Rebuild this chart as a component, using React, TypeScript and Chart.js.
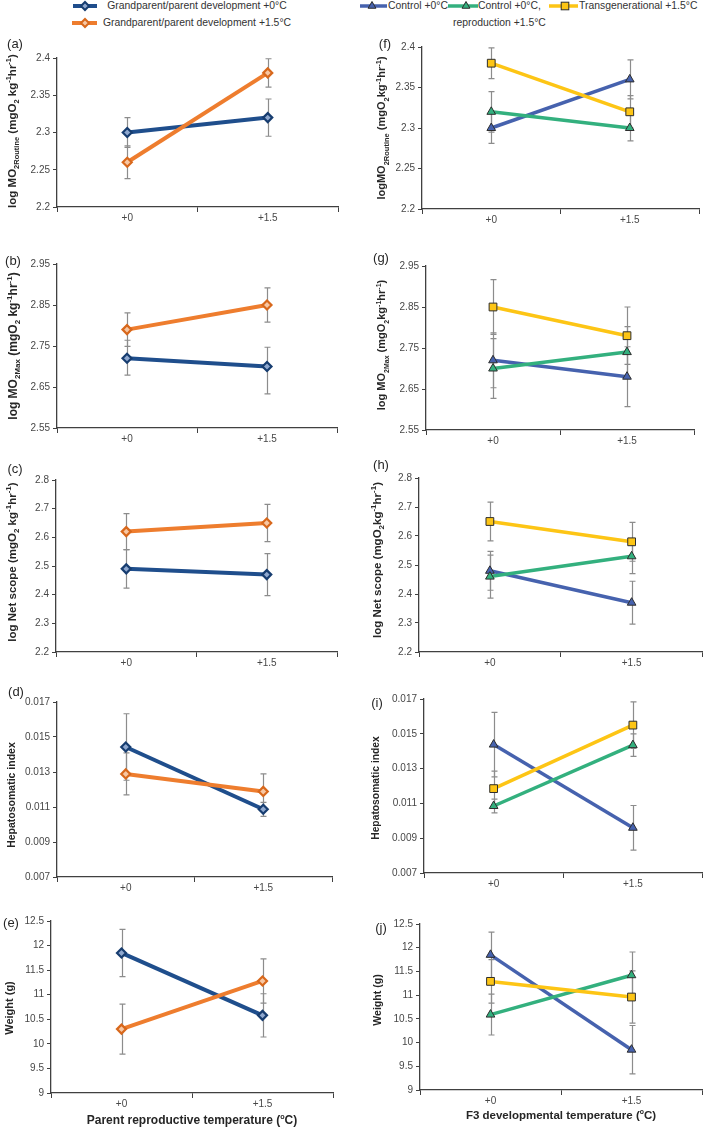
import React, { useEffect, useRef } from 'react';
import { Chart, registerables } from 'chart.js';
Chart.register(...registerables);

const FONT = "'Liberation Sans', Arial, Helvetica, sans-serif";
const TICK_COLOR = '#474747';
const AXIS_COLOR = '#404040';
const TEXT_COLOR = '#262626';
const ERR_COLOR = '#8c8c8c';

// ---------- data ----------
const categories = ['+0', '+1.5'];

// left column: Grandparent/parent development +0°C (gp0) and +1.5°C (gp15)
const a_gp0 = [2.30, 2.32];
const a_gp0_err = [0.020, 0.025];
const a_gp15 = [2.26, 2.38];
const a_gp15_err = [0.022, 0.019];

const b_gp0 = [2.72, 2.70];
const b_gp0_errHi = [0.044, 0.047];
const b_gp0_errLo = [0.041, 0.067];
const b_gp15 = [2.79, 2.85];
const b_gp15_err = [0.041, 0.042];

const c_gp0 = [2.49, 2.47];
const c_gp0_err = [0.067, 0.073];
const c_gp15 = [2.62, 2.65];
const c_gp15_err = [0.063, 0.065];

const d_gp0 = [0.01443, 0.01087];
const d_gp0_err = [0.0019, 0.0004];
const d_gp15 = [0.01289, 0.01189];
const d_gp15_err = [0.0012, 0.0010];

const e_gp0 = [11.85, 10.58];
const e_gp0_err = [0.48, 0.44];
const e_gp15 = [10.30, 11.28];
const e_gp15_err = [0.51, 0.45];

// right column: Control +0°C (ctrl), Control +0°C reproduction +1.5°C (rep), Transgenerational +1.5°C (trans)
const f_ctrl = [2.30, 2.36];
const f_ctrl_err = [0.019, 0.024];
const f_rep = [2.32, 2.30];
const f_rep_err = [0.025, 0.016];
const f_trans = [2.38, 2.32];
const f_trans_err = [0.019, 0.020];

const g_ctrl = [2.72, 2.68];
const g_ctrl_err = [0.067, 0.073];
const g_rep = [2.70, 2.74];
const g_rep_err = [0.073, 0.062];
const g_trans = [2.85, 2.78];
const g_trans_err = [0.067, 0.070];

const h_ctrl = [2.48, 2.37];
const h_ctrl_err = [0.067, 0.074];
const h_rep = [2.46, 2.53];
const h_rep_err = [0.074, 0.060];
const h_trans = [2.65, 2.58];
const h_trans_err = [0.067, 0.067];

const i_ctrl = [0.01438, 0.0096];
const i_ctrl_err = [0.00185, 0.00128];
const i_rep = [0.01085, 0.01435];
const i_rep_err = [0.0004, 0.00065];
const i_trans = [0.01185, 0.0155];
const i_trans_err = [0.0010, 0.00134];

const j_ctrl = [11.85, 9.85];
const j_ctrl_err = [0.48, 0.51];
const j_rep = [10.59, 11.42];
const j_rep_err = [0.43, 0.49];
const j_trans = [11.29, 10.96];
const j_trans_err = [0.46, 0.55];

// y axis ranges [min, max, step]
const routineAxis = [2.2, 2.4, 0.05];
const maxAxis = [2.55, 2.95, 0.1];
const scopeAxis = [2.2, 2.8, 0.1];
const hsiAxis = [0.007, 0.017, 0.002];
const weightAxis = [9, 12.5, 0.5];

// legend labels
const leftLegend = ['Grandparent/parent development +0°C', 'Grandparent/parent development +1.5°C'];
const rightLegend = ['Control +0°C', 'Control +0°C,', 'reproduction +1.5°C', 'Transgenerational +1.5°C'];
const xTitleLeft = ['Parent reproductive temperature (', 'o', 'C)'];
const xTitleRight = ['F3 developmental temperature (', 'o', 'C)'];

// ---------- styles ----------
const GP0 = { color: '#1F4E8C', point: 'rectRot', radius: 4.5, fill: '#8fa8cf', pborder: '#173d70', pbw: 2.2, lw: 4, order: 1 };
const GP15 = { color: '#EE7D2E', point: 'rectRot', radius: 4.5, fill: '#f7c7a3', pborder: '#d8681c', pbw: 2.2, lw: 4, order: 0 };
const CTRL = { color: '#4662AE', point: 'triangle', radius: 5, fill: '#4662AE', pborder: '#2d2d2d', pbw: 1, lw: 3.5, order: 2 };
const REP = { color: '#33B07E', point: 'triangle', radius: 5, fill: '#33B07E', pborder: '#2d2d2d', pbw: 1, lw: 3.5, order: 1 };
const TRANS = { color: '#FDC515', point: 'rect', radius: 5.5, fill: '#FDC515', pborder: '#2d2d2d', pbw: 1, lw: 3.5, order: 0 };

const ser = (style: any, values: number[], hi: number[], lo?: number[]) => ({ style, values, hi, lo: lo || hi });

type Part = [string, string];
const tRoutineL: Part[] = [['n', 'log MO'], ['sub', '2Routine'], ['n', ' (mgO'], ['sub', '2'], ['n', ' kg'], ['sup', '-1'], ['n', 'hr'], ['sup', '-1'], ['n', ')']];
const tMaxL: Part[] = [['n', 'log MO'], ['sub', '2Max'], ['n', ' (mgO'], ['sub', '2'], ['n', ' kg'], ['sup', '-1'], ['n', 'hr'], ['sup', '-1'], ['n', ')']];
const tScopeL: Part[] = [['n', 'log Net scope (mgO'], ['sub', '2'], ['n', ' kg'], ['sup', '-1'], ['n', 'hr'], ['sup', '-1'], ['n', ')']];
const tHsi: Part[] = [['n', 'Hepatosomatic index']];
const tWeight: Part[] = [['n', 'Weight (g)']];
const tRoutineR: Part[] = [['n', 'logMO'], ['sub', '2Routine'], ['n', ' (mgO'], ['sub', '2'], ['n', 'kg'], ['sup', '-1'], ['n', 'hr'], ['sup', '-1'], ['n', ')']];
const tMaxR: Part[] = [['n', 'log MO'], ['sub', '2Max'], ['n', ' (mgO'], ['sub', '2'], ['n', 'kg'], ['sup', '-1'], ['n', 'hr'], ['sup', '-1'], ['n', ')']];
const tScopeR: Part[] = [['n', 'log Net scope (mgO'], ['sub', '2'], ['n', 'kg'], ['sup', '-1'], ['n', 'hr'], ['sup', '-1'], ['n', ')']];

const panels = [
  { id: 'a', col: 0, L: 57, T: 58, R: 338, B: 207, axis: routineAxis, series: [ser(GP0, a_gp0, a_gp0_err), ser(GP15, a_gp15, a_gp15_err)], lab: [15, 43], title: { cx: 13, cy: 131, size: 11.5, sub: 7.5, parts: tRoutineL } },
  { id: 'b', col: 0, L: 57, T: 264, R: 337, B: 428, axis: maxAxis, series: [ser(GP0, b_gp0, b_gp0_errHi, b_gp0_errLo), ser(GP15, b_gp15, b_gp15_err)], lab: [13, 260], title: { cx: 13, cy: 346, size: 12, sub: 8, parts: tMaxL } },
  { id: 'c', col: 0, L: 56, T: 480, R: 337, B: 652, axis: scopeAxis, series: [ser(GP0, c_gp0, c_gp0_err), ser(GP15, c_gp15, c_gp15_err)], lab: [15, 468], title: { cx: 13, cy: 562, size: 11.5, sub: 8, parts: tScopeL } },
  { id: 'd', col: 0, L: 57, T: 702, R: 332, B: 877, axis: hsiAxis, series: [ser(GP0, d_gp0, d_gp0_err), ser(GP15, d_gp15, d_gp15_err)], lab: [16, 691], title: { cx: 11, cy: 795, size: 10.5, sub: 7, parts: tHsi } },
  { id: 'e', col: 0, L: 51, T: 921, R: 333, B: 1093, axis: weightAxis, series: [ser(GP0, e_gp0, e_gp0_err), ser(GP15, e_gp15, e_gp15_err)], lab: [11, 922], title: { cx: 10, cy: 1008, size: 11, sub: 7, parts: tWeight } },
  { id: 'f', col: 1, L: 422, T: 47, R: 699, B: 209, axis: routineAxis, series: [ser(CTRL, f_ctrl, f_ctrl_err), ser(REP, f_rep, f_rep_err), ser(TRANS, f_trans, f_trans_err)], lab: [385, 43], title: { cx: 382, cy: 128, size: 11, sub: 7.5, parts: tRoutineR } },
  { id: 'g', col: 1, L: 426, T: 266, R: 694, B: 430, axis: maxAxis, series: [ser(CTRL, g_ctrl, g_ctrl_err), ser(REP, g_rep, g_rep_err), ser(TRANS, g_trans, g_trans_err)], lab: [381, 257], title: { cx: 382, cy: 345, size: 11, sub: 7, parts: tMaxR } },
  { id: 'h', col: 1, L: 419, T: 478, R: 708, B: 652, axis: scopeAxis, series: [ser(CTRL, h_ctrl, h_ctrl_err), ser(REP, h_rep, h_rep_err), ser(TRANS, h_trans, h_trans_err)], lab: [381, 464], title: { cx: 378, cy: 560, size: 11.5, sub: 8, parts: tScopeR } },
  { id: 'i', col: 1, L: 424, T: 699, R: 707, B: 873, axis: hsiAxis, series: [ser(CTRL, i_ctrl, i_ctrl_err), ser(REP, i_rep, i_rep_err), ser(TRANS, i_trans, i_trans_err)], lab: [377, 702], title: { cx: 376, cy: 788, size: 10.3, sub: 7, parts: tHsi } },
  { id: 'j', col: 1, L: 420, T: 924, R: 702, B: 1090, axis: weightAxis, series: [ser(CTRL, j_ctrl, j_ctrl_err), ser(REP, j_rep, j_rep_err), ser(TRANS, j_trans, j_trans_err)], lab: [381, 927], title: { cx: 377, cy: 1000, size: 10.6, sub: 7, parts: tWeight } },
];

const COLS = [{ x0: 0, w: 354 }, { x0: 354, w: 355 }];
const PAD_TOP = 14;
const X_H = 22;

const errorBars = {
  id: 'errorBars',
  beforeDatasetsDraw(chart: any) {
    const { ctx } = chart;
    const ys = chart.scales.y;
    ctx.save();
    ctx.strokeStyle = ERR_COLOR;
    ctx.lineWidth = 1.2;
    chart.data.datasets.forEach((ds: any, i: number) => {
      const meta = chart.getDatasetMeta(i);
      ds.data.forEach((v: number, j: number) => {
        const el = meta.data[j];
        if (!el) return;
        const x = Math.round(el.x) + 0.5;
        const top = ys.getPixelForValue(v + ds.errHi[j]);
        const bot = ys.getPixelForValue(v - ds.errLo[j]);
        ctx.beginPath();
        ctx.moveTo(x, top);
        ctx.lineTo(x, bot);
        ctx.moveTo(x - 3, top);
        ctx.lineTo(x + 3, top);
        ctx.moveTo(x - 3, bot);
        ctx.lineTo(x + 3, bot);
        ctx.stroke();
      });
    });
    ctx.restore();
  },
};

const fmt = (v: any) => String(parseFloat(Number(v).toFixed(6)));

function PanelChart({ p }: { p: any }) {
  const ref = useRef<HTMLCanvasElement>(null);
  const col = COLS[p.col];
  const top = p.T - PAD_TOP;
  const height = p.B + X_H - top;
  useEffect(() => {
    if (!ref.current) return;
    const chart = new Chart(ref.current, {
      type: 'line',
      data: {
        labels: categories,
        datasets: p.series.map((s: any) => ({
          data: s.values,
          errHi: s.hi,
          errLo: s.lo,
          borderColor: s.style.color,
          backgroundColor: s.style.color,
          borderWidth: s.style.lw,
          pointStyle: s.style.point,
          pointRadius: s.style.radius,
          pointBackgroundColor: s.style.fill,
          pointBorderColor: s.style.pborder,
          pointBorderWidth: s.style.pbw,
          fill: false,
          tension: 0,
          order: s.style.order,
          clip: false,
        })),
      },
      options: {
        responsive: false,
        animation: false,
        events: [],
        layout: { padding: { top: PAD_TOP, right: col.x0 + col.w - p.R, left: 0, bottom: 0 } },
        plugins: { legend: { display: false }, tooltip: { enabled: false } },
        scales: {
          x: {
            type: 'category',
            offset: true,
            grid: { display: true, offset: true, drawOnChartArea: false, drawTicks: true, tickLength: 5, color: AXIS_COLOR, lineWidth: 1 },
            border: { display: true, color: AXIS_COLOR, width: 1.3 },
            ticks: { color: TICK_COLOR, font: { family: FONT, size: 10 }, padding: 0, maxRotation: 0, autoSkip: false },
            afterFit: (s: any) => { s.height = X_H; },
          },
          y: {
            type: 'linear',
            min: p.axis[0],
            max: p.axis[1],
            grid: { display: true, drawOnChartArea: false, drawTicks: true, tickLength: 4, color: AXIS_COLOR, lineWidth: 1 },
            border: { display: true, color: AXIS_COLOR, width: 1.3 },
            ticks: { stepSize: p.axis[2], color: TICK_COLOR, font: { family: FONT, size: 10 }, padding: 3, autoSkip: false, callback: (v: any) => fmt(v) },
            afterFit: (s: any) => { s.width = p.L - col.x0; },
          },
        },
      } as any,
      plugins: [errorBars],
    });
    return () => chart.destroy();
  }, []);
  return (
    <canvas
      ref={ref}
      width={col.w}
      height={height}
      style={{ position: 'absolute', left: col.x0, top, width: col.w, height }}
    />
  );
}

function Rich({ parts, sub }: { parts: Part[]; sub: number }) {
  return (
    <>
      {parts.map((pt, i) =>
        pt[0] === 'n' ? (
          <span key={i}>{pt[1]}</span>
        ) : (
          <span key={i} style={{ fontSize: sub, verticalAlign: pt[0] === 'sub' ? 'sub' : 'super', lineHeight: 0 }}>
            {pt[1]}
          </span>
        )
      )}
    </>
  );
}

function YTitle({ t }: { t: any }) {
  return (
    <div
      style={{
        position: 'absolute',
        left: t.cx,
        top: t.cy,
        transform: 'translate(-50%, -50%) rotate(-90deg)',
        whiteSpace: 'nowrap',
        fontFamily: FONT,
        fontWeight: 'bold',
        fontSize: t.size,
        lineHeight: 1.2,
        color: TEXT_COLOR,
      }}
    >
      <Rich parts={t.parts} sub={t.sub} />
    </div>
  );
}

function PanelLabel({ id, x, y }: { id: string; x: number; y: number }) {
  return (
    <div
      style={{
        position: 'absolute',
        left: x,
        top: y,
        transform: 'translate(-50%, -50%)',
        fontFamily: FONT,
        fontSize: 13,
        color: TEXT_COLOR,
        whiteSpace: 'nowrap',
      }}
    >
      ({id})
    </div>
  );
}

function Swatch({ style, left, top, width, mx }: any) {
  const h = 12;
  const cy = h / 2;
  let marker: any = null;
  if (style.point === 'rectRot') {
    const r = 4;
    marker = (
      <polygon
        points={`${mx - r},${cy} ${mx},${cy - r} ${mx + r},${cy} ${mx},${cy + r}`}
        fill={style.fill}
        stroke={style.pborder}
        strokeWidth={2}
      />
    );
  } else if (style.point === 'triangle') {
    const r = 4.5;
    marker = (
      <polygon
        points={`${mx},${cy - r} ${mx + r * 0.866},${cy + r / 2} ${mx - r * 0.866},${cy + r / 2}`}
        fill={style.fill}
        stroke={style.pborder}
        strokeWidth={1}
      />
    );
  } else {
    const s = 3.8;
    marker = <rect x={mx - s} y={cy - s} width={2 * s} height={2 * s} fill={style.fill} stroke={style.pborder} strokeWidth={1} />;
  }
  return (
    <svg style={{ position: 'absolute', left, top }} width={width} height={h}>
      <line x1={0} y1={cy} x2={width} y2={cy} stroke={style.color} strokeWidth={style.lw} />
      {marker}
    </svg>
  );
}

const legendText = (text: string, left: number, top: number, extra: any = {}) => (
  <div
    style={{
      position: 'absolute',
      left,
      top,
      fontFamily: FONT,
      fontSize: 10.4,
      lineHeight: '12px',
      color: '#333333',
      whiteSpace: 'nowrap',
      ...extra,
    }}
  >
    {text}
  </div>
);

function XTitle({ parts, cx, cy, size }: any) {
  return (
    <div
      style={{
        position: 'absolute',
        left: cx,
        top: cy,
        transform: 'translate(-50%, -50%)',
        whiteSpace: 'nowrap',
        fontFamily: FONT,
        fontWeight: 'bold',
        fontSize: size,
        lineHeight: 1.2,
        color: TEXT_COLOR,
      }}
    >
      {parts[0]}
      <span style={{ fontSize: size * 0.6, verticalAlign: 'super', lineHeight: 0 }}>{parts[1]}</span>
      {parts[2]}
    </div>
  );
}

export default function App() {
  return (
    <div style={{ position: 'absolute', left: 0, top: 0, width: 709, height: 1128, background: '#ffffff', overflow: 'hidden' }}>
      {/* legends */}
      <Swatch style={GP0} left={73} top={0} width={24} mx={12} />
      {legendText(leftLegend[0], 97, 0, { width: 200, textAlign: 'center' })}
      <Swatch style={GP15} left={72} top={17} width={25} mx={13} />
      {legendText(leftLegend[1], 97, 17, { width: 200, textAlign: 'center' })}

      <Swatch style={CTRL} left={360} top={0} width={27} mx={12} />
      {legendText(rightLegend[0], 388, 0)}
      <Swatch style={REP} left={448} top={0} width={30} mx={18} />
      {legendText(rightLegend[1], 478, 0)}
      {legendText(rightLegend[2], 453, 17)}
      <Swatch style={TRANS} left={549} top={0} width={29} mx={16} />
      {legendText(rightLegend[3], 579, 0)}

      {panels.map((p) => (
        <PanelChart key={p.id} p={p} />
      ))}
      {panels.map((p) => (
        <YTitle key={'t' + p.id} t={p.title} />
      ))}
      {panels.map((p) => (
        <PanelLabel key={'l' + p.id} id={p.id} x={p.lab[0]} y={p.lab[1]} />
      ))}
      <XTitle parts={xTitleLeft} cx={192} cy={1120} size={12} />
      <XTitle parts={xTitleRight} cx={561} cy={1116} size={11.5} />
    </div>
  );
}
